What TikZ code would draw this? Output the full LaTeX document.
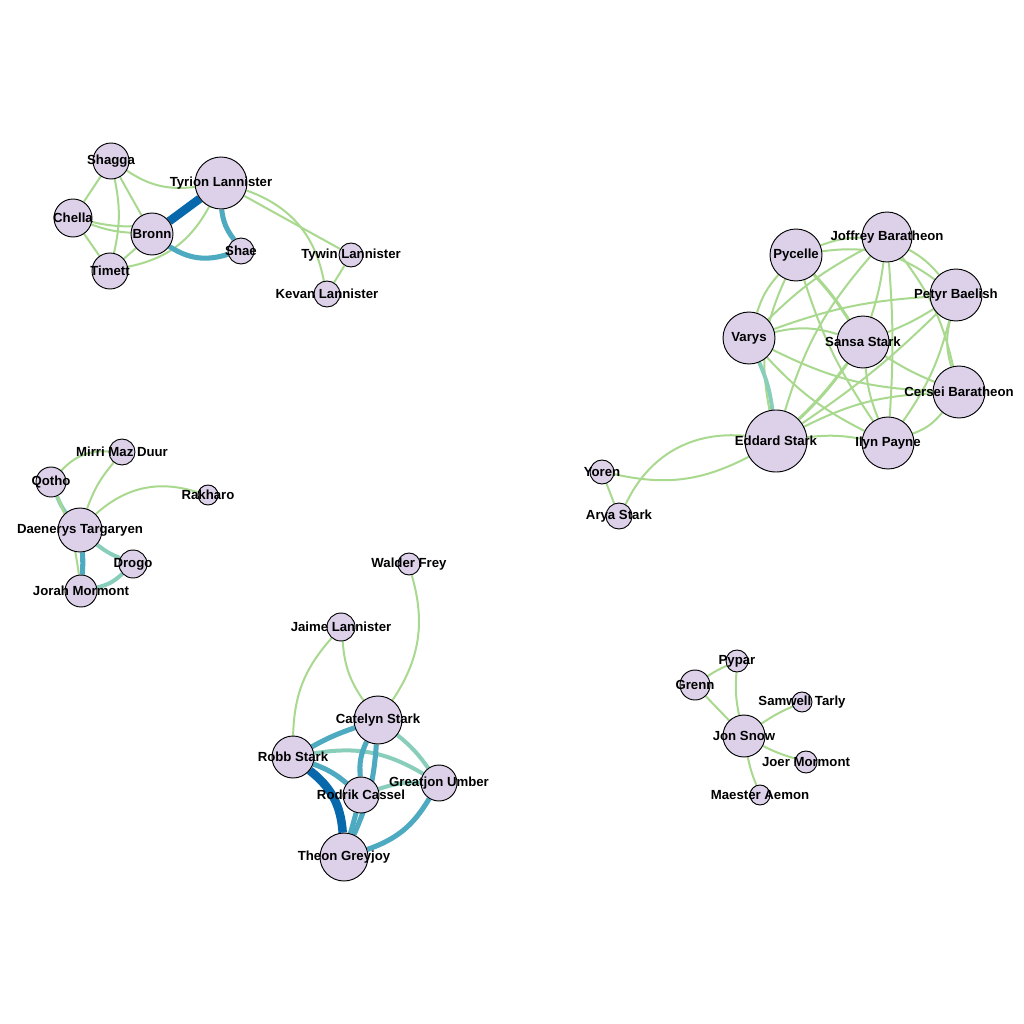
\documentclass[tikz,border=0pt]{standalone}
\usepackage{fontspec}
\setmainfont{Liberation Sans}
\usetikzlibrary{positioning}
\definecolor{nodefill}{RGB}{220,209,233}
\definecolor{weak}{RGB}{168,217,142}
\definecolor{mild}{RGB}{136,206,186}
\definecolor{strong}{RGB}{78,170,192}
\definecolor{heavy}{RGB}{8,104,172}
\pgfdeclarelayer{edges}
\pgfsetlayers{edges,main}
\tikzset{
  person/.style={circle, draw=black, line width=0.7pt, fill=nodefill,
                 inner sep=0pt, minimum size=#1*1.5pt},
  every label/.style={font=\bfseries\fontsize{9.9}{11}\selectfont, inner sep=0pt},
  weaktie/.style={draw=weak, line width=1.5pt},
  weaktie2/.style={draw=weak, line width=2.3pt},
  mildtie/.style={draw=mild, line width=3pt},
  strongtie/.style={draw=strong, line width=3.8pt},
  heavytie/.style={draw=heavy, line width=6.4pt}
}

\begin{document}
\begin{tikzpicture}[x=0.75pt, y=0.75pt]

        \useasboundingbox (0,0) rectangle (1024,-1024);

        % Lannister camp
        \node[person=18, label=center:Shagga] (shagga) at (111,-161) {};
        \node[person=26, label=center:Tyrion Lannister] (tyrion) at (221,-183) {};
        \node[person=19, label=center:Chella] (chella) at (73,-218) {};
        \node[person=21, label=center:Bronn] (bronn) at (152,-234) {};
        \node[person=13, label=center:Shae] (shae) at (241,-251) {};
        \node[person=18, label=center:Timett] (timett) at (110,-271) {};
        \node[person=12, label=center:Tywin Lannister] (tywin) at (351,-255) {};
        \node[person=13, label=center:Kevan Lannister] (kevan) at (327,-294) {};

        % King's Landing
        \node[person=26, label=center:Pycelle] (pycelle) at (796,-255) {};
        \node[person=25, label=center:Joffrey Baratheon] (joffrey) at (887,-237) {};
        \node[person=26, label=center:Petyr Baelish] (petyr) at (956,-295) {};
        \node[person=26, label=center:Varys] (varys) at (749,-338) {};
        \node[person=26, label=center:Sansa Stark] (sansa) at (863,-342) {};
        \node[person=26, label=center:Cersei Baratheon] (cersei) at (959,-392) {};
        \node[person=31, label=center:Eddard Stark] (eddard) at (776,-441) {};
        \node[person=26, label=center:Ilyn Payne] (ilyn) at (888,-443) {};
        \node[person=12, label=center:Yoren] (yoren) at (602,-472) {};
        \node[person=13, label=center:Arya Stark] (arya) at (619,-516) {};

        % Daenerys
        \node[person=13, label=center:Mirri Maz Duur] (mirri) at (122,-452) {};
        \node[person=15, label=center:Qotho] (qotho) at (51,-482) {};
        \node[person=10, label=center:Rakharo] (rakharo) at (208,-495) {};
        \node[person=22, label=center:Daenerys Targaryen] (daenerys) at (80,-530) {};
        \node[person=14, label=center:Drogo] (drogo) at (133,-564) {};
        \node[person=16, label=center:Jorah Mormont] (jorah) at (81,-591) {};

        % Riverlands
        \node[person=11, label=center:Walder Frey] (walder) at (409,-564) {};
        \node[person=14, label=center:Jaime Lannister] (jaime) at (341,-627) {};
        \node[person=24, label=center:Catelyn Stark] (catelyn) at (378,-720) {};
        \node[person=21, label=center:Robb Stark] (robb) at (293,-757) {};
        \node[person=18, label=center:Greatjon Umber] (greatjon) at (439,-783) {};
        \node[person=18, label=center:Rodrik Cassel] (rodrik) at (361,-795) {};
        \node[person=24, label=center:Theon Greyjoy] (theon) at (344,-857) {};

        % The Wall
        \node[person=11, label=center:Pypar] (pypar) at (737,-661) {};
        \node[person=15, label=center:Grenn] (grenn) at (695,-685) {};
        \node[person=10, label=center:Samwell Tarly] (samwell) at (802,-702) {};
        \node[person=21, label=center:Jon Snow] (jon) at (744,-736) {};
        \node[person=11, label=center:Joer Mormont] (joer) at (806,-762) {};
        \node[person=10, label=center:Maester Aemon] (aemon) at (760,-795) {};

        \begin{pgfonlayer}{edges}
        \fill[white] (0,0) rectangle (1024,-1024);

        % Lannister ties
        \draw[weaktie] (shagga) to[bend right=20] (tyrion);
        \draw[weaktie] (shagga) -- (chella);
        \draw[weaktie] (shagga) -- (bronn);
        \draw[weaktie] (shagga) to[bend left=12] (timett);
        \draw[weaktie] (chella) to[bend right=8] (bronn);
        \draw[weaktie] (chella) to[bend right=25] (tyrion);
        \draw[weaktie] (chella) -- (timett);
        \draw[weaktie] (bronn) -- (timett);
        \draw[weaktie] (timett) to[bend right=25] (tyrion);
        \draw[weaktie] (tyrion) -- (tywin);
        \draw[weaktie] (tyrion) to[bend left=30] (kevan);
        \draw[weaktie] (tywin) -- (kevan);
        \draw[strongtie] (bronn) to[bend right=25] (shae);
        \draw[strongtie] (tyrion) to[bend right=15] (shae);
        \draw[heavytie] (bronn) -- (tyrion);

        % King's Landing ties
        \draw[weaktie] (pycelle) to[bend left=10] (joffrey);
        \draw[weaktie] (pycelle) to[bend left=22] (petyr);
        \draw[weaktie] (pycelle) to[bend right=12] (varys);
        \draw[weaktie2] (pycelle) to[bend left=5] (sansa);
        \draw[weaktie] (pycelle) to[bend right=8] (ilyn);
        \draw[weaktie] (pycelle) to[bend right=18] (eddard);
        \draw[weaktie] (joffrey) to[bend left=10] (petyr);
        \draw[weaktie] (joffrey) to[bend right=8] (varys);
        \draw[weaktie] (joffrey) to[bend left=5] (sansa);
        \draw[weaktie] (joffrey) to[bend left=12] (cersei);
        \draw[weaktie] (joffrey) to[bend left=4] (ilyn);
        \draw[weaktie] (joffrey) to[bend right=12] (eddard);
        \draw[weaktie] (petyr) to[bend right=8] (varys);
        \draw[weaktie] (petyr) to[bend left=5] (sansa);
        \draw[weaktie] (petyr) to[bend right=15] (cersei);
        \draw[weaktie] (petyr) to[bend left=10] (ilyn);
        \draw[weaktie] (petyr) to[bend left=5] (eddard);
        \draw[weaktie] (varys) to[bend left=15] (sansa);
        \draw[weaktie] (varys) to[bend right=12] (cersei);
        \draw[weaktie] (varys) to[bend right=10] (ilyn);
        \draw[weaktie] (sansa) to[bend right=5] (cersei);
        \draw[weaktie] (sansa) to[bend right=8] (ilyn);
        \draw[weaktie2] (sansa) to[bend left=5] (eddard);
        \draw[weaktie] (cersei) to[bend left=15] (ilyn);
        \draw[weaktie] (cersei) to[bend right=12] (eddard);
        \draw[weaktie] (eddard) to[bend left=8] (ilyn);
        \draw[mildtie] (varys) to[bend left=8] (eddard);
        \draw[weaktie] (yoren) to[bend right=20] (eddard);
        \draw[weaktie] (arya) to[bend left=35] (eddard);
        \draw[weaktie] (yoren) -- (arya);

        % Daenerys ties
        \draw[weaktie] (qotho) to[bend left=25] (mirri);
        \draw[weaktie] (mirri) to[bend right=10] (daenerys);
        \draw[weaktie] (daenerys) to[bend left=30] (rakharo);
        \draw[mildtie] (qotho) to[bend right=8] (daenerys);
        \draw[mildtie] (daenerys) to[bend right=8] (drogo);
        \draw[mildtie] (drogo) to[bend left=15] (jorah);
        \draw[strongtie] (daenerys) to[bend left=5] (jorah);
        \draw[weaktie] (qotho) to[bend left=8] (jorah);

        % Riverlands ties
        \draw[weaktie] (walder) to[bend left=25] (catelyn);
        \draw[weaktie] (jaime) to[bend right=20] (robb);
        \draw[weaktie] (jaime) to[bend right=15] (catelyn);
        \draw[mildtie] (catelyn) to[bend left=8] (greatjon);
        \draw[mildtie] (robb) to[bend left=20] (greatjon);
        \draw[mildtie] (rodrik) to[bend left=10] (greatjon);
        \draw[strongtie] (catelyn) to[bend right=5] (robb);
        \draw[strongtie] (catelyn) to[bend right=15] (rodrik);
        \draw[strongtie] (catelyn) to[bend left=10] (theon);
        \draw[strongtie] (robb) to[bend left=10] (rodrik);
        \draw[strongtie] (rodrik) -- (theon);
        \draw[strongtie] (greatjon) to[bend left=20] (theon);
        \draw[heavytie] (robb) to[bend left=24] (theon);

        % Wall ties
        \draw[weaktie] (grenn) to[bend left=5] (pypar);
        \draw[weaktie] (grenn) -- (jon);
        \draw[weaktie] (pypar) to[bend right=8] (jon);
        \draw[weaktie] (jon) to[bend left=5] (samwell);
        \draw[weaktie] (jon) to[bend right=5] (joer);
        \draw[weaktie] (jon) to[bend right=5] (aemon);
        \end{pgfonlayer}

    \end{tikzpicture}
\end{document}
